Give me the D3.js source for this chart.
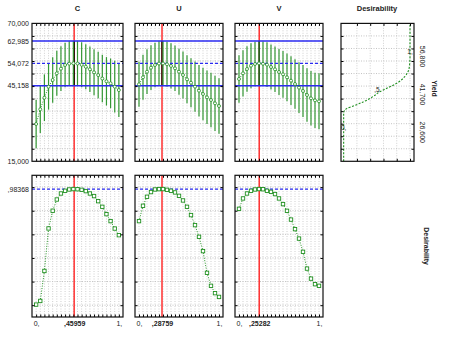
<!DOCTYPE html>
<html>
<head>
<meta charset="utf-8">
<script src="https://cdn.jsdelivr.net/npm/d3@7"></script>
<style>
body { margin: 0; background: #fff; }
text { font-family: "Liberation Sans", Arial, sans-serif; }
</style>
</head>
<body>
<div id="container"></div>
<script>
// factor levels (x) and responses
const factors = ["C", "U", "V"];
const levels = [0, 0.05, 0.1, 0.15, 0.2, 0.25, 0.3, 0.35, 0.4, 0.45, 0.5,
                0.55, 0.6, 0.65, 0.7, 0.75, 0.8, 0.85, 0.9, 0.95, 1];
const optimum = [0.45959, 0.28759, 0.25282];
const optLabels = [",45959", ",28759", ",25282"];

const yieldC = [29870, 35740, 40370, 44760, 47430, 50090, 51930, 53410, 53950, 54060, 54000,
                53500, 52700, 51700, 50500, 49400, 48000, 46900, 46100, 44760, 43400];
const yieldU = [45710, 48500, 50730, 52330, 53410, 54000, 54050, 53700, 53040, 52090, 50730,
                49420, 47700, 46350, 44760, 43160, 41840, 40520, 39450, 38130, 37050];
const yieldV = [47830, 50090, 51800, 53130, 53810, 54060, 53900, 53530, 52610, 51690, 50620,
                49700, 48500, 47160, 45830, 44370, 43040, 41440, 40120, 39320, 38930];

// half width of the confidence bars
const hwC = [9700, 9500, 9300, 9150, 9050, 8980, 8940, 8920, 8913, 8913, 8920,
             8940, 8980, 9050, 9150, 9280, 9450, 9650, 9900, 10300, 10750];
const hwU = [9000, 8960, 8930, 8915, 8913, 8913, 8920, 8950, 9000, 9080, 9200,
             9350, 9550, 9750, 10000, 10250, 10450, 10650, 10850, 11000, 11100];
const hwV = [9450, 9200, 9050, 8960, 8920, 8913, 8915, 8940, 8990, 9070, 9180,
             9320, 9500, 9700, 9920, 10150, 10400, 10650, 10850, 11000, 11170];

const desC = [0.005, 0.036, 0.29, 0.65, 0.80, 0.895, 0.946, 0.969, 0.980, 0.9835, 0.982,
              0.977, 0.966, 0.946, 0.924, 0.881, 0.833, 0.771, 0.712, 0.649, 0.593];
const desU = [0.712, 0.842, 0.918, 0.958, 0.980, 0.983, 0.9835, 0.977, 0.969, 0.955, 0.926,
              0.887, 0.833, 0.763, 0.678, 0.579, 0.458, 0.274, 0.164, 0.102, 0.070];
const desV = [0.816, 0.904, 0.946, 0.969, 0.980, 0.9835, 0.982, 0.969, 0.960, 0.941, 0.904,
              0.856, 0.799, 0.725, 0.644, 0.564, 0.452, 0.310, 0.225, 0.178, 0.164];

const yieldRef = { hi: 62985, pred: 54072, lo: 45158 };
const desOpt = 0.98368;

const yieldLabels = [70000, 62985, 54072, 45158, 15000];
const yieldTicks = [20000, 25000, 30000, 35000, 40000, 45000, 50000, 55000, 60000, 65000];
const desTicks = [0, 0.2, 0.4, 0.6, 0.8, 1];

// desirability function (right panel)
const dfYield = [15000, 26600, 34300, 36100, 37050, 38770, 40120, 41700, 42360, 44110,
                 46110, 48740, 52730, 56800, 70000];
const dfValue = [0, 0, 0, 0.05, 0.145, 0.30, 0.40, 0.49, 0.52, 0.65, 0.80, 0.92, 0.99, 1, 1];
const dfGrid = [0.2, 0.4, 0.6, 0.8, 1];
const dfMarks = [[0, 26600, "0,"], [0.5, 41700, ",5"], [1, 56800, "1,"]];
const dfAxisLabels = [56800, 41700, 26600];

const yields = [yieldC, yieldU, yieldV];
const halfW = [hwC, hwU, hwV];
const desir = [desC, desU, desV];

const svg = d3.select("#container").append("svg")
              .attr("width", 450).attr("height", 338);

const green = "#1f8f1f", barGreen = "#349834", blue = "#2a2af0", red = "#ff3030";
const panelX = [[32, 123], [135, 223], [235, 323]];

const yTop = d3.scaleLinear().domain([15000, 70000]).range([161.3, 23.4]);
const yBot = d3.scaleLinear().domain([-0.1, 1.1]).range([317, 175.3]);

function frame(g, x, y, xGrid, yGrid) {
    const [x0, x1] = x.range(), [y0, y1] = y.range();
    g.append("g").selectAll("line").data(xGrid).join("line")
        .attr("x1", d => x(d)).attr("x2", d => x(d))
        .attr("y1", y0).attr("y2", y1)
        .attr("stroke", "#cfcfcf").attr("stroke-dasharray", "1,1.5");
    g.append("g").selectAll("line").data(yGrid).join("line")
        .attr("y1", d => y(d)).attr("y2", d => y(d))
        .attr("x1", x0).attr("x2", x1)
        .attr("stroke", "#c4c4c4").attr("stroke-dasharray", "1,1.5");
}

function ticks(g, x, y, xGrid, yGrid) {
    const [x0, x1] = x.range(), [y0, y1] = y.range();
    g.append("g").attr("transform", "translate(0," + y1 + ")")
        .call(d3.axisTop(x).tickValues(xGrid).tickSize(-2.5).tickSizeOuter(0).tickFormat(""));
    g.append("g").attr("transform", "translate(0," + y0 + ")")
        .call(d3.axisBottom(x).tickValues(xGrid).tickSize(-2.5).tickSizeOuter(0).tickFormat(""));
    g.append("g").attr("transform", "translate(" + x0 + ",0)")
        .call(d3.axisLeft(y).tickValues(yGrid).tickSize(-2.5).tickSizeOuter(0).tickFormat(""));
    g.append("g").attr("transform", "translate(" + x1 + ",0)")
        .call(d3.axisRight(y).tickValues(yGrid).tickSize(-2.5).tickSizeOuter(0).tickFormat(""));
    g.selectAll(".domain").remove();
    g.append("rect").attr("x", x0).attr("y", y1)
        .attr("width", x1 - x0).attr("height", y0 - y1)
        .attr("fill", "none").attr("stroke", "#111").attr("stroke-width", 1.2);
}

factors.forEach((f, i) => {
    const x = d3.scaleLinear().domain([-0.05, 1.05]).range(panelX[i]);
    const pts = levels.map((l, j) => ({ l: l, y: yields[i][j], h: halfW[i][j], d: desir[i][j] }));

    // ---- top: predicted yield with confidence bars
    const gt = svg.append("g");
    frame(gt, x, yTop, levels, yieldTicks);
    gt.append("line").attr("x1", x(optimum[i])).attr("x2", x(optimum[i]))
        .attr("y1", yTop.range()[0]).attr("y2", yTop.range()[1])
        .attr("stroke", red).attr("stroke-width", 1.5);
    gt.append("line").attr("x1", x(optimum[i])).attr("x2", x(optimum[i]))
        .attr("y1", yTop(yieldRef.lo)).attr("y2", yTop(yieldRef.hi))
        .attr("stroke", "#000").attr("stroke-width", 1.3);
    gt.append("g").selectAll("line").data(pts).join("line")
        .attr("x1", d => x(d.l)).attr("x2", d => x(d.l))
        .attr("y1", d => yTop(d.y - d.h)).attr("y2", d => yTop(d.y + d.h))
        .attr("stroke", barGreen).attr("stroke-width", 1.2);
    [["hi", null], ["pred", "3,2"], ["lo", null]].forEach(([k, dash]) => {
        gt.append("line").attr("x1", panelX[i][0]).attr("x2", panelX[i][1])
            .attr("y1", yTop(yieldRef[k])).attr("y2", yTop(yieldRef[k]))
            .attr("stroke", blue).attr("stroke-width", 1.4)
            .attr("stroke-dasharray", dash);
    });
    gt.append("path").datum(pts)
        .attr("d", d3.line().x(d => x(d.l)).y(d => yTop(d.y)))
        .attr("fill", "none").attr("stroke", green).attr("stroke-width", 1)
        .attr("stroke-dasharray", "1,1.5");
    gt.append("g").selectAll("circle").data(pts).join("circle")
        .attr("cx", d => x(d.l)).attr("cy", d => yTop(d.y)).attr("r", 1.5)
        .attr("fill", "#fff").attr("stroke", green).attr("stroke-width", 0.8);
    ticks(gt, x, yTop, levels, yieldTicks);

    svg.append("text").attr("x", (panelX[i][0] + panelX[i][1]) / 2).attr("y", 11)
        .attr("text-anchor", "middle").style("font-size", "7.5px").style("font-weight", "bold")
        .attr("fill", "#222").text(f);

    // ---- bottom: desirability
    const gb = svg.append("g");
    frame(gb, x, yBot, levels, desTicks);
    gb.append("line").attr("x1", x(optimum[i])).attr("x2", x(optimum[i]))
        .attr("y1", yBot.range()[0]).attr("y2", yBot.range()[1])
        .attr("stroke", red).attr("stroke-width", 1.5);
    gb.append("line").attr("x1", panelX[i][0]).attr("x2", panelX[i][1])
        .attr("y1", yBot(desOpt)).attr("y2", yBot(desOpt))
        .attr("stroke", blue).attr("stroke-width", 1.2).attr("stroke-dasharray", "3,2");
    gb.append("path").datum(pts)
        .attr("d", d3.line().x(d => x(d.l)).y(d => yBot(d.d)))
        .attr("fill", "none").attr("stroke", green).attr("stroke-width", 1)
        .attr("stroke-dasharray", "1,1.5");
    gb.append("g").selectAll("rect").data(pts).join("rect")
        .attr("x", d => x(d.l) - 1.7).attr("y", d => yBot(d.d) - 1.7)
        .attr("width", 3.4).attr("height", 3.4)
        .attr("fill", "#fff").attr("stroke", green).attr("stroke-width", 0.9);
    ticks(gb, x, yBot, levels, desTicks);

    const lab = svg.append("g").attr("transform", "translate(0," + yBot.range()[0] + ")")
        .call(d3.axisBottom(x).tickValues([0, optimum[i], 1]).tickSize(0).tickPadding(4)
            .tickFormat(d => d === 0 ? "0," : d === 1 ? "1," : optLabels[i]));
    lab.select(".domain").remove();
    lab.selectAll("text").style("font-size", "7px").attr("fill", "#222");
    lab.selectAll("text").filter(d => d !== 0 && d !== 1).style("font-weight", "bold");
});

// left labels
const la = svg.append("g").attr("transform", "translate(" + panelX[0][0] + ",0)")
    .call(d3.axisLeft(yTop).tickValues(yieldLabels).tickSize(0).tickPadding(3)
        .tickFormat(d3.format(",")));
la.select(".domain").remove();
la.selectAll("text").style("font-size", "7px").attr("fill", "#222");

const lb = svg.append("g").attr("transform", "translate(" + panelX[0][0] + ",0)")
    .call(d3.axisLeft(yBot).tickValues([desOpt]).tickSize(0).tickPadding(3)
        .tickFormat(() => ",98368"));
lb.select(".domain").remove();
lb.selectAll("text").style("font-size", "7px").attr("fill", "#222");

// ---- right panel: desirability function of Yield
const xDf = d3.scaleLinear().domain([-0.04, 1.06]).range([341, 414]);
const gd = svg.append("g");
frame(gd, xDf, yTop, dfGrid, yieldTicks);
gd.append("path").datum(dfYield.map((v, j) => [dfValue[j], v]))
    .attr("d", d3.line().x(d => xDf(d[0])).y(d => yTop(d[1])).curve(d3.curveMonotoneY))
    .attr("fill", "none").attr("stroke", green).attr("stroke-width", 1.1)
    .attr("stroke-dasharray", "2,1.5");
gd.append("g").selectAll("text").data(dfMarks).join("text")
    .attr("x", d => xDf(d[0])).attr("y", d => yTop(d[1]) - 2)
    .attr("text-anchor", "middle").style("font-size", "6.5px").attr("fill", "#222")
    .text(d => d[2]);
ticks(gd, xDf, yTop, dfGrid, yieldTicks);

svg.append("text").attr("x", 377).attr("y", 11).attr("text-anchor", "middle")
    .style("font-size", "7.5px").style("font-weight", "bold").attr("fill", "#222")
    .text("Desirability");

svg.append("g").selectAll("text").data(dfAxisLabels).join("text")
    .attr("transform", d => "translate(420," + yTop(d) + ") rotate(90)")
    .attr("text-anchor", "middle").style("font-size", "7px").attr("fill", "#222")
    .text(d3.format(","));

svg.append("text").attr("transform", "translate(432," + yTop(44000) + ") rotate(90)")
    .attr("text-anchor", "middle").style("font-size", "7px").style("font-weight", "bold")
    .attr("fill", "#222").text("Yield");

svg.append("text").attr("transform", "translate(424," + yBot(0.5) + ") rotate(90)")
    .attr("text-anchor", "middle").style("font-size", "7px").style("font-weight", "bold")
    .attr("fill", "#222").text("Desirability");
</script>
</body>
</html>
